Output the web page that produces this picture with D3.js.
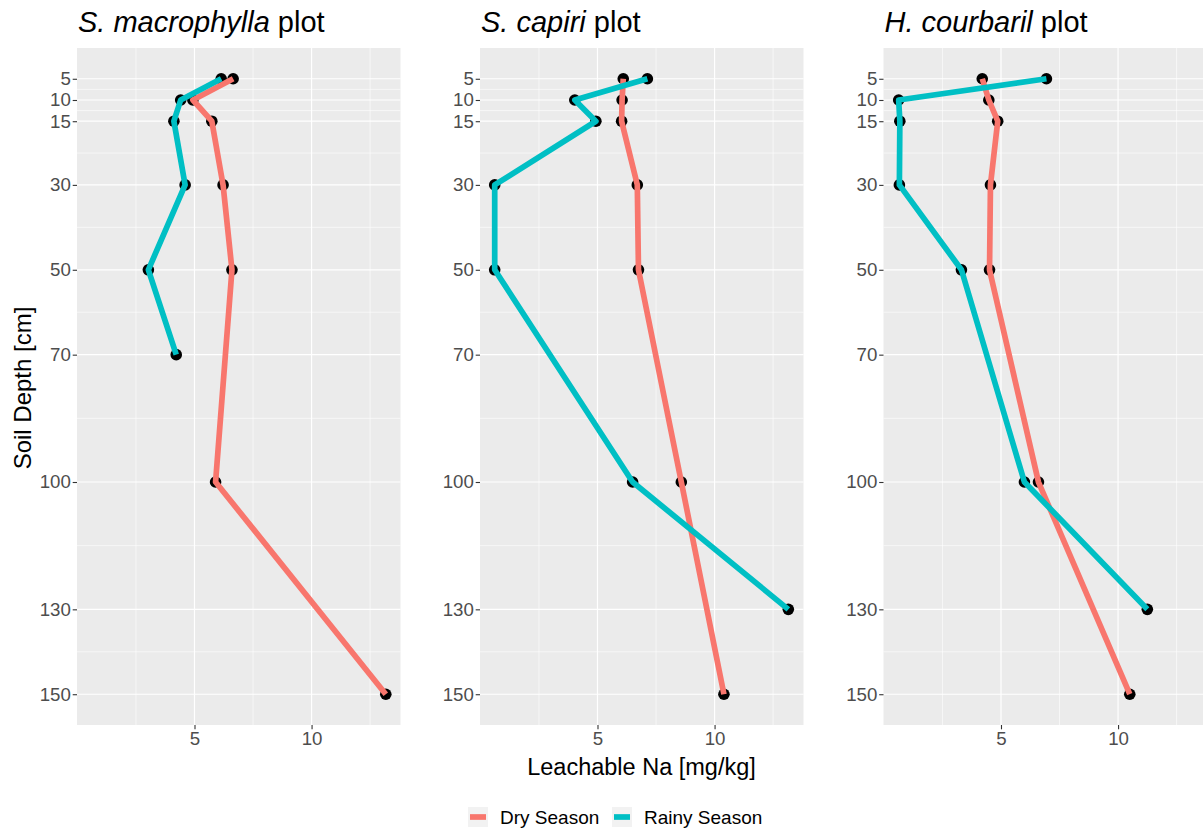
<!DOCTYPE html>
<html><head><meta charset="utf-8">
<script src="https://cdn.jsdelivr.net/npm/d3@7"></script>
<style>body{margin:0;background:#fff;} text{font-family:"Liberation Sans",Arial,sans-serif;}</style>
</head><body>
<svg id="c" width="1203" height="831"></svg>
<script>
// ---- data ----
const panelTitlesItalic = ["S. macrophylla", "S. capiri", "H. courbaril"];
const dryDepth = [5, 10, 15, 30, 50, 100, 150];
const rainyDepthSM = [5, 10, 15, 30, 50, 70];
const rainyDepth = [5, 10, 15, 30, 50, 100, 130];
const smDryNa = [6.65, 4.93, 5.74, 6.22, 6.6, 5.9, 13.17];
const smRainyNa = [6.14, 4.41, 4.12, 4.6, 3.03, 4.22];
const scDryNa = [6.1, 6.05, 6.03, 6.7, 6.75, 8.58, 10.4];
const scRainyNa = [7.13, 4.03, 4.93, 0.61, 0.61, 6.5, 13.15];
const hcDryNa = [4.2, 4.48, 4.86, 4.55, 4.51, 6.6, 10.5];
const hcRainyNa = [6.94, 0.63, 0.68, 0.66, 3.31, 6.0, 11.25];
const xTicks = [5, 10];
const xMinor = [2.5, 7.5, 12.5];
const yTicks = [5, 10, 15, 30, 50, 70, 100, 130, 150];
const yMinor = [7.5, 12.5, 22.5, 40, 60, 85, 115, 140];
const seriesNames = ["Dry Season", "Rainy Season"];
const seriesColors = ["#F8766D", "#00BFC4"];

const panels = [
  {dry: d3.zip(dryDepth, smDryNa), rainy: d3.zip(rainyDepthSM, smRainyNa)},
  {dry: d3.zip(dryDepth, scDryNa), rainy: d3.zip(rainyDepth, scRainyNa)},
  {dry: d3.zip(dryDepth, hcDryNa), rainy: d3.zip(rainyDepth, hcRainyNa)}
];

// ---- layout ----
const svg = d3.select("#c");
const panelLeft = [77, 480, 883.5];
const PW = 323.5, plotTop = 48, H = 677;

const allX = [].concat(smDryNa, smRainyNa, scDryNa, scRainyNa, hcDryNa, hcRainyNa);
const xmin = d3.min(allX), xmax = d3.max(allX), xr = xmax - xmin;
const x = d3.scaleLinear().domain([xmin - 0.05 * xr, xmax + 0.05 * xr]).range([0, PW]);
const ymin = 5, ymax = 150, yr = ymax - ymin;
const y = d3.scaleLinear().domain([ymin - 0.05 * yr, ymax + 0.05 * yr]).range([0, H]);

panels.forEach((p, i) => {
  const g = svg.append("g").attr("transform", `translate(${panelLeft[i]},${plotTop})`);
  g.append("rect").attr("width", PW).attr("height", H).attr("fill", "#EBEBEB");
  g.selectAll(".ymi").data(yMinor).join("line")
    .attr("x1", 0).attr("x2", PW).attr("y1", d => y(d)).attr("y2", d => y(d))
    .attr("stroke", "#fff").attr("stroke-width", 0.6);
  g.selectAll(".xmi").data(xMinor).join("line")
    .attr("y1", 0).attr("y2", H).attr("x1", d => x(d)).attr("x2", d => x(d))
    .attr("stroke", "#fff").attr("stroke-width", 0.6);
  g.selectAll(".yma").data(yTicks).join("line")
    .attr("x1", 0).attr("x2", PW).attr("y1", d => y(d)).attr("y2", d => y(d))
    .attr("stroke", "#fff").attr("stroke-width", 1.2);
  g.selectAll(".xma").data(xTicks).join("line")
    .attr("y1", 0).attr("y2", H).attr("x1", d => x(d)).attr("x2", d => x(d))
    .attr("stroke", "#fff").attr("stroke-width", 1.2);

  // axes
  const ya = g.append("g").call(d3.axisLeft(y).tickValues(yTicks).tickSize(4.3).tickPadding(1.8));
  const xa = g.append("g").attr("transform", `translate(0,${H})`)
    .call(d3.axisBottom(x).tickValues(xTicks).tickSize(4.3).tickPadding(2.5));
  [ya, xa].forEach(a => {
    a.select(".domain").remove();
    a.selectAll(".tick line").attr("stroke", "#333").attr("stroke-width", 1.1);
    a.selectAll(".tick text").attr("fill", "#4D4D4D").style("font-size", "18.7px")
      .style("font-family", "Liberation Sans, Arial, sans-serif");
  });

  // points then lines
  const series = [p.dry, p.rainy];
  series.forEach((s, k) => {
    g.selectAll(".pt" + k).data(s).join("circle")
      .attr("cx", d => x(d[1])).attr("cy", d => y(d[0])).attr("r", 5.8).attr("fill", "#000");
  });
  series.forEach((s, k) => {
    g.append("path").datum(s)
      .attr("d", d3.line().x(d => x(d[1])).y(d => y(d[0])))
      .attr("fill", "none").attr("stroke", seriesColors[k]).attr("stroke-width", 5.7)
      .attr("stroke-linejoin", "round").attr("stroke-linecap", "butt");
  });

  // title
  const t = svg.append("text").attr("x", panelLeft[i] + 1).attr("y", 32)
    .style("font-size", "29px").attr("fill", "#000");
  t.append("tspan").style("font-style", "italic").text(panelTitlesItalic[i]);
  t.append("tspan").text(" plot");
});

// axis titles
svg.append("text").attr("transform", "translate(31,388) rotate(-90)")
  .attr("text-anchor", "middle").style("font-size", "24px").attr("fill", "#000").text("Soil Depth [cm]");
svg.append("text").attr("x", 641.5).attr("y", 775)
  .attr("text-anchor", "middle").style("font-size", "23.5px").attr("fill", "#000").text("Leachable Na [mg/kg]");

// legend
const legX = [468, 612];
seriesNames.forEach((n, k) => {
  const lg = svg.append("g").attr("transform", `translate(${legX[k]},807)`);
  lg.append("rect").attr("width", 20).attr("height", 20).attr("fill", "#F2F2F2");
  lg.append("line").attr("x1", 2).attr("x2", 18).attr("y1", 10).attr("y2", 10)
    .attr("stroke", seriesColors[k]).attr("stroke-width", 5.7);
  lg.append("text").attr("x", 32).attr("y", 17).style("font-size", "19px").attr("fill", "#000").text(n);
});
</script>
</body></html>
